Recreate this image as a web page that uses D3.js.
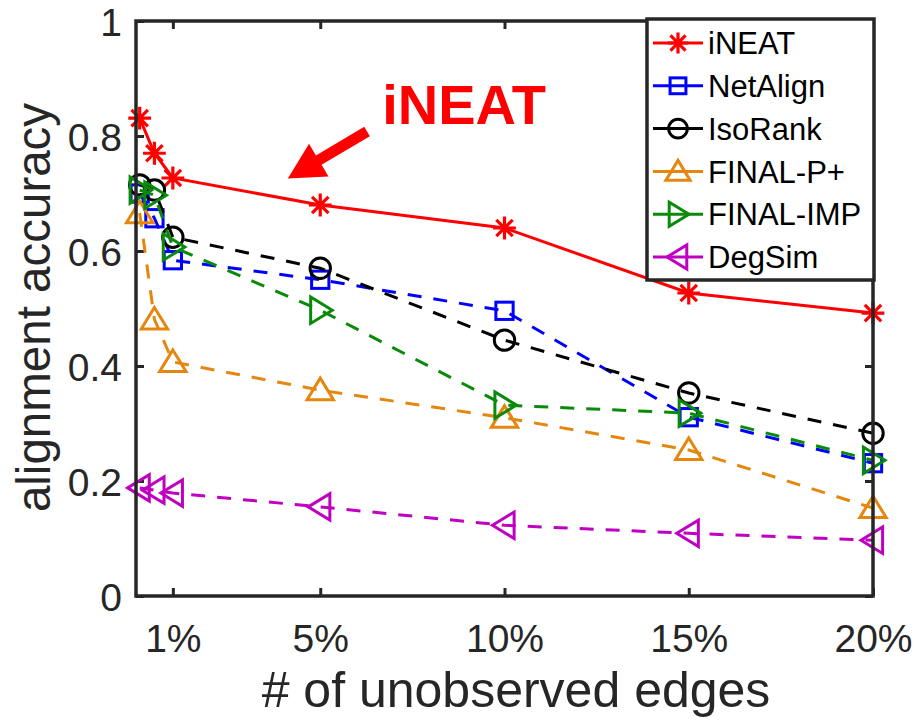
<!DOCTYPE html>
<html>
<head>
<meta charset="utf-8">
<script src="https://cdn.jsdelivr.net/npm/d3@7"></script>
<style>
  html, body { margin: 0; padding: 0; background: #fff; }
  svg { display: block; font-family: "Liberation Sans", Arial, sans-serif; }
</style>
</head>
<body>
<svg id="chart" width="920" height="724"></svg>
<script>
// ---------------- data ----------------
const xValues = [0.1, 0.5, 1, 5, 10, 15, 20];
const xTickValues = [1, 5, 10, 15, 20];
const xTickLabels = ["1%", "5%", "10%", "15%", "20%"];
const yTickValues = [0, 0.2, 0.4, 0.6, 0.8, 1];
const yTickLabels = ["0", "0.2", "0.4", "0.6", "0.8", "1"];

const seriesNames = ["iNEAT", "NetAlign", "IsoRank", "FINAL-P+", "FINAL-IMP", "DegSim"];
const iNEAT     = [0.831, 0.770, 0.727, 0.680, 0.640, 0.527, 0.492];
const NetAlign  = [0.700, 0.657, 0.584, 0.550, 0.496, 0.311, 0.231];
const IsoRank   = [0.715, 0.706, 0.624, 0.570, 0.445, 0.353, 0.283];
const FINALP    = [0.666, 0.481, 0.407, 0.358, 0.310, 0.254, 0.153];
const FINALIMP  = [0.706, 0.697, 0.607, 0.497, 0.332, 0.318, 0.236];
const DegSim    = [0.188, 0.184, 0.179, 0.155, 0.123, 0.109, 0.097];
const seriesValues = [iNEAT, NetAlign, IsoRank, FINALP, FINALIMP, DegSim];
const seriesColors = ["#ff0000", "#0000ff", "#000000", "#e5860e", "#0a8a0a", "#c000c0"];
const seriesMarkers = ["star", "square", "circle", "triangleUp", "triangleRight", "triangleLeft"];
const seriesDashed = [false, true, true, true, true, true];

// annotation (data coordinates)
const annotationText = "iNEAT";
const annotationTextPos = [6.68, 0.821];
const arrowTail = [6.27, 0.808];
const arrowTip = [4.12, 0.726];

// ---------------- layout ----------------
const svg = d3.select("#chart");
const M = { left: 136, top: 21, right: 47, bottom: 128 };
const W = 920 - M.left - M.right;
const H = 724 - M.top - M.bottom;
const axisColor = "#262626";

const x = d3.scaleLinear().domain([0, 20]).range([0, W]);
const y = d3.scaleLinear().domain([0, 1]).range([H, 0]);

const g = svg.append("g").attr("transform", `translate(${M.left},${M.top})`);

// tick marks (inside, on all four sides)
const tickLen = 8;
const xAxisB = d3.axisBottom(x).tickValues(xTickValues).tickSize(-tickLen).tickFormat("");
const xAxisT = d3.axisTop(x).tickValues(xTickValues).tickSize(-tickLen).tickFormat("");
const yAxisL = d3.axisLeft(y).tickValues(yTickValues).tickSize(-tickLen).tickFormat("");
const yAxisR = d3.axisRight(y).tickValues(yTickValues).tickSize(-tickLen).tickFormat("");
[[xAxisB, `translate(0,${H})`], [xAxisT, "translate(0,0)"],
 [yAxisL, "translate(0,0)"], [yAxisR, `translate(${W},0)`]].forEach(([ax, tr]) => {
  const a = g.append("g").attr("transform", tr).call(ax);
  a.select(".domain").remove();
  a.selectAll(".tick line").attr("stroke", axisColor).attr("stroke-width", 3);
});

// tick labels
const xl = d3.axisBottom(x).tickValues(xTickValues).tickSize(0)
  .tickFormat((d, i) => xTickLabels[i]).tickPadding(0);
const xlG = g.append("g").attr("transform", `translate(0,${H})`).call(xl);
xlG.select(".domain").remove();
xlG.selectAll("text").attr("font-size", 39).attr("fill", "#262626")
  .attr("font-family", "Liberation Sans, Arial, sans-serif")
  .attr("dy", null).attr("y", 56);

const yl = d3.axisLeft(y).tickValues(yTickValues).tickSize(0)
  .tickFormat((d, i) => yTickLabels[i]).tickPadding(14);
const ylG = g.append("g").call(yl);
ylG.select(".domain").remove();
ylG.selectAll("text").attr("font-size", 39).attr("fill", "#262626")
  .attr("font-family", "Liberation Sans, Arial, sans-serif")
  .attr("dy", "0.36em");

// axis titles
svg.append("text")
  .attr("x", 516).attr("y", 707)
  .attr("text-anchor", "middle").attr("font-size", 50).attr("fill", "#262626")
  .text("# of unobserved edges");
svg.append("text")
  .attr("transform", `translate(50,${M.top + H / 2 - 1}) rotate(-90)`)
  .attr("text-anchor", "middle").attr("font-size", 47.5).attr("fill", "#262626")
  .text("alignment accuracy");

// ---------------- markers ----------------
function drawMarker(sel, type, color, cx, cy, s) {
  const m = sel.append("g").attr("transform", `translate(${cx},${cy})`)
    .attr("fill", "none").attr("stroke", color).attr("stroke-width", 3)
    .attr("stroke-linejoin", "miter");
  if (type === "star") {
    const r = s * 0.95;
    const d = r * 0.72;
    m.append("path").attr("stroke-width", 3.2)
      .attr("d", `M${-r},0H${r}M0,${-r}V${r}M${-d},${-d}L${d},${d}M${-d},${d}L${d},${-d}`);
  } else if (type === "square") {
    const h = s * 0.72;
    m.append("rect").attr("x", -h).attr("y", -h).attr("width", 2 * h).attr("height", 2 * h);
  } else if (type === "circle") {
    m.append("circle").attr("r", s * 0.85);
  } else if (type === "triangleUp") {
    const h = s;
    m.append("path").attr("d", `M0,${-h}L${h * 1.1},${h * 0.8}L${-h * 1.1},${h * 0.8}Z`);
  } else if (type === "triangleRight") {
    const h = s;
    m.append("path").attr("d", `M${h},0L${-h * 0.8},${-h * 1.1}L${-h * 0.8},${h * 1.1}Z`);
  } else if (type === "triangleLeft") {
    const h = s;
    m.append("path").attr("d", `M${-h},0L${h * 0.8},${-h * 1.1}L${h * 0.8},${h * 1.1}Z`);
  }
}

// ---------------- series ----------------
const line = d3.line().x(d => x(d[0])).y(d => y(d[1]));
seriesValues.forEach((vals, si) => {
  const pts = xValues.map((xv, i) => [xv, vals[i]]);
  g.append("path").datum(pts).attr("d", line)
    .attr("fill", "none").attr("stroke", seriesColors[si]).attr("stroke-width", 3)
    .attr("stroke-dasharray", seriesDashed[si] ? "14,12" : null);
  pts.forEach(p => drawMarker(g, seriesMarkers[si], seriesColors[si], x(p[0]), y(p[1]), 12));
});

// axes box
g.append("rect").attr("x", 0).attr("y", 0).attr("width", W).attr("height", H)
  .attr("fill", "none").attr("stroke", axisColor).attr("stroke-width", 3.5);

// ---------------- annotation ----------------
(function () {
  const tx = x(arrowTail[0]), ty = y(arrowTail[1]);
  const hx = x(arrowTip[0]), hy = y(arrowTip[1]);
  const ang = Math.atan2(hy - ty, hx - tx);
  const len = Math.hypot(hx - tx, hy - ty);
  const headLen = 36, headHalf = 19, shaftHalf = 5.5;
  const a = g.append("g").attr("transform", `translate(${tx},${ty}) rotate(${ang * 180 / Math.PI})`);
  a.append("path").attr("fill", "#ff0000")
    .attr("d", `M0,${-shaftHalf}L${len - headLen},${-shaftHalf}L${len - headLen},${-headHalf}` +
      `L${len},0L${len - headLen},${headHalf}L${len - headLen},${shaftHalf}L0,${shaftHalf}Z`);
  g.append("text").attr("x", x(annotationTextPos[0])).attr("y", y(annotationTextPos[1]))
    .attr("font-size", 56).attr("font-weight", "bold").attr("fill", "#ff0000")
    .text(annotationText);
})();

// ---------------- legend ----------------
const legX = 647, legY = 19, legW = 227, legH = 261;
const leg = svg.append("g");
leg.append("rect").attr("x", legX).attr("y", legY).attr("width", legW).attr("height", legH)
  .attr("fill", "#fff").attr("stroke", axisColor).attr("stroke-width", 3.5);
seriesNames.forEach((name, i) => {
  const cy = 43 + i * 42.8;
  leg.append("line").attr("x1", 653).attr("x2", 703).attr("y1", cy).attr("y2", cy)
    .attr("stroke", seriesColors[i]).attr("stroke-width", 3);
  drawMarker(leg, seriesMarkers[i], seriesColors[i], 678, cy, 11);
  leg.append("text").attr("x", 708).attr("y", cy).attr("dy", "0.36em")
    .attr("font-size", 31).attr("fill", "#000").text(name);
});
</script>
</body>
</html>
